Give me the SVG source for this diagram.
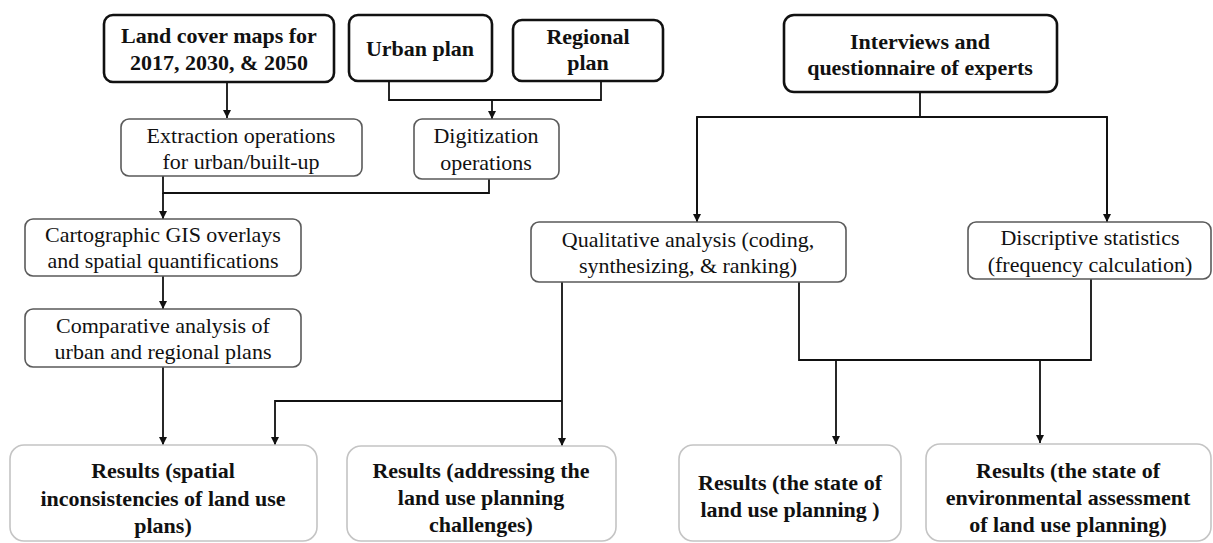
<svg xmlns="http://www.w3.org/2000/svg" width="1213" height="543" viewBox="0 0 1213 543">
<defs>
<style>
.bold{fill:#fff;stroke:#111;stroke-width:2.6}
.mid{fill:#fff;stroke:#5a5a5a;stroke-width:1.6}
.res{fill:#fff;stroke:#c4c4c4;stroke-width:1.6}
text{font-family:"Liberation Serif","Times New Roman",serif;font-size:22px;fill:#111;text-anchor:middle}
.b{font-weight:bold}
.c{fill:none;stroke:#111;stroke-width:1.8}
</style>
<marker id="ah" markerUnits="userSpaceOnUse" markerWidth="9" markerHeight="9" refX="8" refY="4" orient="auto">
<path d="M0,0 L8,4 L0,8 z" fill="#111"/>
</marker>
</defs>
<rect width="1213" height="543" fill="#fff"/>
<g id="connectors">
<path class="c" d="M227,82 V118" marker-end="url(#ah)"/>
<path class="c" d="M389,81 V100 H601 V81"/>
<path class="c" d="M492,100 V119" marker-end="url(#ah)"/>
<path class="c" d="M163,176 V193 H489 V179"/>
<path class="c" d="M163,193 V219" marker-end="url(#ah)"/>
<path class="c" d="M163,276 V309" marker-end="url(#ah)"/>
<path class="c" d="M163,367 V445" marker-end="url(#ah)"/>
<path class="c" d="M920,92 V117"/>
<path class="c" d="M697,222 V117 H1107 V222"/>
<path class="c" d="M697,117 V222" marker-end="url(#ah)"/>
<path class="c" d="M1107,117 V222" marker-end="url(#ah)"/>
<path class="c" d="M562,282 V446" marker-end="url(#ah)"/>
<path class="c" d="M562,401 H275 V445" marker-end="url(#ah)"/>
<path class="c" d="M799,282 V360 H1091 V279"/>
<path class="c" d="M836,360 V444" marker-end="url(#ah)"/>
<path class="c" d="M1040,360 V443" marker-end="url(#ah)"/>
</g>
<g id="landcover">
<rect class="bold" x="104" y="15" width="230" height="67" rx="9"/>
<text class="b" x="219" y="43">Land cover maps for</text>
<text class="b" x="219" y="70">2017, 2030, &amp; 2050</text>
</g>
<g id="urbanplan">
<rect class="bold" x="349" y="15" width="143" height="66" rx="9"/>
<text class="b" x="420" y="56">Urban plan</text>
</g>
<g id="regionalplan">
<rect class="bold" x="513" y="20" width="150" height="61" rx="9"/>
<text class="b" x="588" y="44">Regional</text>
<text class="b" x="588" y="70">plan</text>
</g>
<g id="interviews">
<rect class="bold" x="784" y="15" width="273" height="77" rx="10"/>
<text class="b" x="920" y="49">Interviews and</text>
<text class="b" x="920" y="75">questionnaire of experts</text>
</g>
<g id="extraction">
<rect class="mid" x="121" y="119" width="241" height="57" rx="8"/>
<text x="241" y="143">Extraction operations</text>
<text x="241" y="169">for urban/built-up</text>
</g>
<g id="digitization">
<rect class="mid" x="414" y="119" width="145" height="60" rx="8"/>
<text x="486" y="143">Digitization</text>
<text x="486" y="170">operations</text>
</g>
<g id="cartographic">
<rect class="mid" x="25" y="219" width="276" height="57" rx="8"/>
<text x="163" y="242">Cartographic GIS overlays</text>
<text x="163" y="268">and spatial quantifications</text>
</g>
<g id="comparative">
<rect class="mid" x="25" y="309" width="276" height="58" rx="8"/>
<text x="163" y="333">Comparative analysis of</text>
<text x="163" y="359">urban and regional plans</text>
</g>
<g id="qualitative">
<rect class="mid" x="531" y="222" width="315" height="60" rx="8"/>
<text x="688" y="247">Qualitative analysis (coding,</text>
<text x="688" y="273">synthesizing, &amp; ranking)</text>
</g>
<g id="descriptive">
<rect class="mid" x="968" y="222" width="243" height="57" rx="8"/>
<text x="1090" y="245">Discriptive statistics</text>
<text x="1090" y="272">(frequency calculation)</text>
</g>
<g id="results1">
<rect class="res" x="10" y="445" width="307" height="96" rx="14"/>
<text class="b" x="163" y="478">Results (spatial</text>
<text class="b" x="163" y="506">inconsistencies of land use</text>
<text class="b" x="163" y="533">plans)</text>
</g>
<g id="results2">
<rect class="res" x="347" y="446" width="269" height="95" rx="14"/>
<text class="b" x="481" y="478">Results (addressing the</text>
<text class="b" x="481" y="505">land use planning</text>
<text class="b" x="481" y="532">challenges)</text>
</g>
<g id="results3">
<rect class="res" x="679" y="445" width="222" height="96" rx="14"/>
<text class="b" x="790" y="490">Results (the state of</text>
<text class="b" x="790" y="517">land use planning )</text>
</g>
<g id="results4">
<rect class="res" x="926" y="444" width="285" height="97" rx="14"/>
<text class="b" x="1068" y="478">Results (the state of</text>
<text class="b" x="1068" y="505">environmental assessment</text>
<text class="b" x="1068" y="532">of land use planning)</text>
</g>
</svg>
